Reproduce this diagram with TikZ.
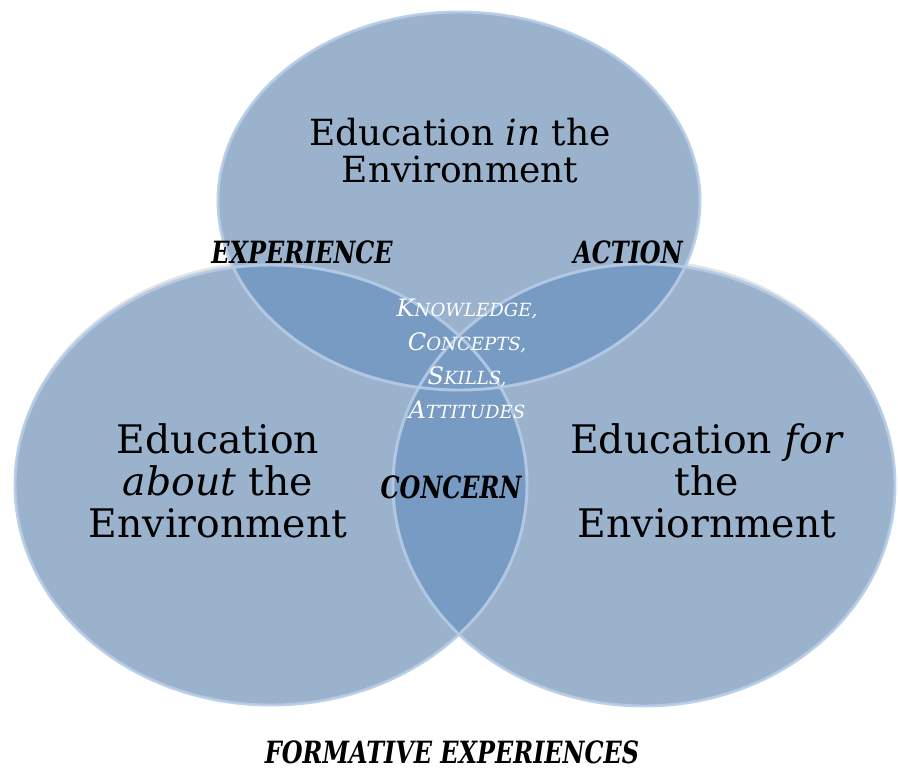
\documentclass[tikz,border=0pt]{standalone}
\usepackage{fontspec}
\usepackage{graphicx}
\setmainfont{DejaVu Serif}

\definecolor{discfill}{RGB}{155,178,205}
\definecolor{discpair}{RGB}{120,155,196}
\definecolor{disctrio}{RGB}{112,148,191}
\definecolor{discrim}{RGB}{182,204,230}
\definecolor{discshade}{RGB}{150,150,150}

\newcommand{\scword}[2]{#1{\fontsize{13.6}{25.5}\selectfont #2}}
\newcommand{\keyword}[1]{\scalebox{0.78}[1]{#1}}

\tikzset{every picture/.style={line width=0.75pt}}
\tikzset{
  disc/.style={fill=discfill},
  rim/.style={draw=discrim, line width=2.2pt, draw opacity=0.9},
  shade/.style={fill=discshade, fill opacity=0.25},
  title text/.style={align=center, inner sep=0.75pt, font=\fontsize{27}{27.75}\selectfont},
  disc text/.style={align=center, inner sep=0.75pt, font=\fontsize{29.5}{31.5}\selectfont},
  key word/.style={inner sep=0.75pt, font=\fontsize{23}{26}\selectfont\bfseries\itshape},
  core text/.style={align=center, inner sep=0.75pt, text=white, font=\fontsize{18}{25.5}\selectfont\itshape}
}

\begin{document}
\begin{tikzpicture}[x=0.75pt,y=0.75pt,yscale=-1,xscale=1]
\useasboundingbox (0,0) rectangle (898,770);

\coordinate (ctop) at (459,201);
\coordinate (cleft) at (271,485);
\coordinate (cright) at (644,485);

%Shadows
\fill [shade] ([yshift=-3pt]cleft) ellipse [x radius=256, y radius=220];
\fill [shade] ([yshift=-3pt]cright) ellipse [x radius=251, y radius=221];

%Shape: Ellipse (top)
\fill [disc] (ctop) ellipse [x radius=241, y radius=189];
%Shape: Ellipse (left)
\fill [disc] (cleft) ellipse [x radius=256, y radius=220];
%Shape: Ellipse (right)
\fill [disc] (cright) ellipse [x radius=251, y radius=221];

%Overlaps with the top disc
\begin{scope}
\clip (ctop) ellipse [x radius=241, y radius=189];
\fill [discpair] (cleft) ellipse [x radius=256, y radius=220];
\fill [discpair] (cright) ellipse [x radius=251, y radius=221];
\clip (cleft) ellipse [x radius=256, y radius=220];
\fill [disctrio] (cright) ellipse [x radius=251, y radius=221];
\end{scope}
%Overlap of left and right
\begin{scope}
\clip (cleft) ellipse [x radius=256, y radius=220];
\fill [discpair] (cright) ellipse [x radius=251, y radius=221];
\end{scope}

%Rims
\draw [rim] (ctop) ellipse [x radius=241, y radius=189];
\draw [rim] (cleft) ellipse [x radius=256, y radius=220];
\draw [rim] (cright) ellipse [x radius=251, y radius=221];

% Text Node
\node (intext) [title text] at (460,151) {Education \textit{in} the\\Environment};
% Text Node
\node (abouttext) [disc text] at (218,481) {Education\\\textit{about} the\\Environment};
% Text Node
\node (fortext) [disc text] at (707,481) {Education \textit{for}\\the\\Enviornment};
% Text Node
\node (experience) [key word] at (302,252) {\keyword{EXPERIENCE}};
% Text Node
\node (action) [key word] at (628,252) {\keyword{ACTION}};
% Text Node
\node (concern) [key word] at (451,487) {\keyword{CONCERN}};
% Text Node
\node (core) [core text] at (467,359) {\scword{K}{NOWLEDGE,}\\\scword{C}{ONCEPTS,}\\\scword{S}{KILLS,}\\\scword{A}{TTITUDES}};
% Text Node
\node (formative) [key word] at (452,752) {\keyword{FORMATIVE EXPERIENCES}};

\end{tikzpicture}
\end{document}
